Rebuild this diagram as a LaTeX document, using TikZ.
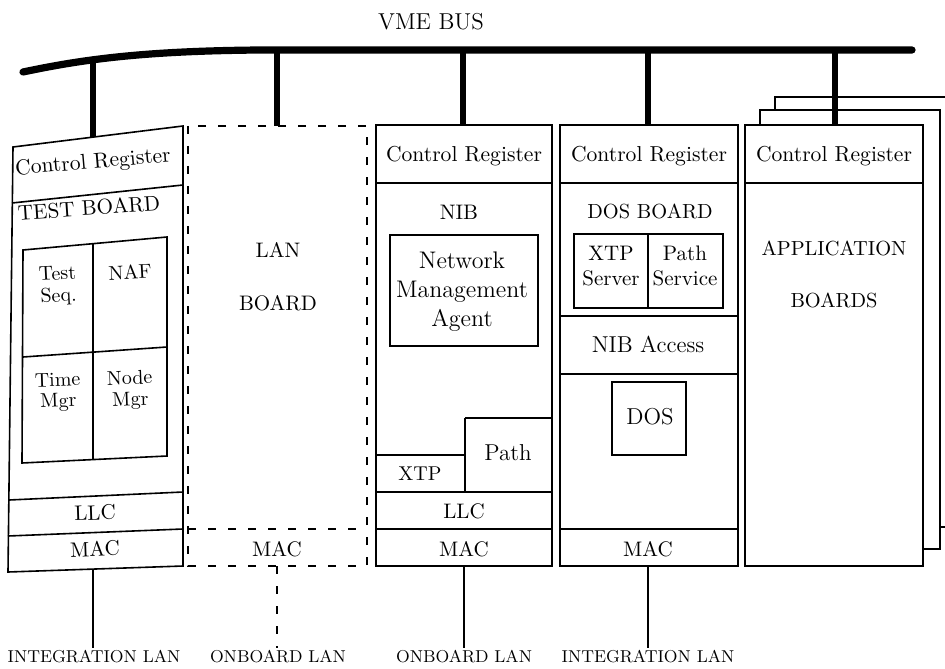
\documentclass[tikz,border=0pt]{standalone}
\usepackage{tikz}

\begin{document}
\begin{tikzpicture}[x=0.5pt,y=-0.5pt,line width=0.8pt,
  bus/.style={line width=3.6pt,line cap=round},
  drop/.style={line width=3pt},
  lanline/.style={dash pattern=on 4pt off 6pt},
  txt/.style 2 args={font=\fontsize{#1}{#2}\selectfont,align=center,inner sep=1pt}]
\useasboundingbox (0,0) rectangle (945,668);
% VME bus
\node[txt={11.5}{13}] (vme) at (431,22) {VME BUS};
\draw[bus] (23,72) .. controls (80,60) and (140,51) .. (260,50) -- (912,50);

% test board (warped)
\draw (13,147) -- (183,126) -- (183,566) -- (8,572) -- cycle;
\draw (12,203) -- (183,185);
\draw (9,500) -- (183,492);
\draw (8,536) -- (183,529);
\draw (23,250) -- (167,237) -- (167,456) -- (22,463) -- cycle;
\draw (93,243) -- (93,460);
\draw (23,357) -- (167,347);
\node[txt={10.8}{13},rotate=5] (cr1) at (93,163) {Control Register};
\node[txt={10.6}{12},rotate=4] (test) at (89,208) {TEST BOARD};
\node[txt={10}{11},rotate=3] (seq) at (58,286) {Test\\Seq.};
\node[txt={10}{11},rotate=3] (naf) at (130,272) {NAF};
\node[txt={10}{10.5},rotate=2] (time) at (58,392) {Time\\Mgr};
\node[txt={10}{10.5},rotate=2] (nodemgr) at (130,390) {Node\\Mgr};
\node[txt={10.5}{12},rotate=2] (llc1) at (95,513) {LLC};
\node[txt={10.5}{12},rotate=2] (mac1) at (95,549) {MAC};

% LAN board (dashed)
\draw[lanline] (188,126) rectangle (367,566);
\draw[lanline] (188,529) -- (367,529);
\node[txt={10.5}{12}] (lan) at (278,250) {LAN};
\node[txt={10.5}{12}] (lanb) at (278,303) {BOARD};
\node[txt={10.5}{12}] (mac2) at (277,549) {MAC};

% NIB
\draw (376,125) rectangle (552,566);
\draw (376,183) -- (552,183);
\draw (376,492) -- (552,492);
\draw (376,529) -- (552,529);
\draw (376,455) -- (465,455);
\draw (465,418) -- (465,492);
\draw (465,418) -- (552,418);
\draw (390,235) rectangle (538,346);
\node[txt={10.8}{13}] (cr3) at (464,156) {Control Register};
\node[txt={10.5}{12}] (nib) at (459,212) {NIB};
\node[txt={12}{14.5}] (nma) at (462,292) {Network\\Management\\Agent};
\node[txt={11.5}{13}] (path) at (508,453) {Path};
\node[txt={10}{11}] (xtp) at (420,474) {XTP};
\node[txt={10.5}{12}] (llc3) at (464,511) {LLC};
\node[txt={10.5}{12}] (mac3) at (464,549) {MAC};

% DOS board
\draw (560,125) rectangle (738,566);
\draw (560,183) -- (738,183);
\draw (560,316) -- (738,316);
\draw (560,374) -- (738,374);
\draw (560,529) -- (738,529);
\draw (574,234) rectangle (723,308);
\draw (648,234) -- (648,308);
\draw (612,382) rectangle (686,455);
\node[txt={10.8}{13}] (cr4) at (649,156) {Control Register};
\node[txt={10.2}{12}] (dosb) at (650,211) {DOS BOARD};
\node[txt={10.5}{12.5}] (xtps) at (611,266) {XTP\\Server};
\node[txt={10.5}{12.5}] (paths) at (685,266) {Path\\Service};
\node[txt={11.5}{13}] (nibacc) at (648,344) {NIB Access};
\node[txt={11.5}{13}] (dos) at (650,417) {DOS};
\node[txt={10.5}{12}] (mac4) at (648,549) {MAC};

% application boards
\draw[fill=white] (775,97) rectangle (960,527);
\draw[fill=white] (760,110) rectangle (940,549);
\draw[fill=white] (745,125) rectangle (923,566);
\draw (745,183) -- (923,183);
\node[txt={10.8}{13}] (cr5) at (834,156) {Control Register};
\node[txt={10.2}{12}] (appl) at (834,248) {APPLICATION};
\node[txt={10.2}{12}] (appb) at (834,300) {BOARDS};

% bus drops
\draw[drop] (93,60) -- (93,137);
\draw[drop] (277,50) -- (277,126);
\draw[drop] (463,50) -- (463,125);
\draw[drop] (648,50) -- (648,125);
\draw[drop] (835,50) -- (835,125);

% LAN connections
\node[txt={8.6}{10}] (intlan1) at (94,657) {INTEGRATION LAN};
\node[txt={8.6}{10}] (oblan1) at (278,657) {ONBOARD LAN};
\node[txt={8.6}{10}] (oblan2) at (464,657) {ONBOARD LAN};
\node[txt={8.6}{10}] (intlan2) at (648,657) {INTEGRATION LAN};
\draw (93,569) -- (intlan1.north -| 93,0);
\draw[lanline] (277,566) -- (oblan1.north -| 277,0);
\draw (464,566) -- (oblan2.north);
\draw (648,566) -- (intlan2.north);
\end{tikzpicture}
\end{document}
